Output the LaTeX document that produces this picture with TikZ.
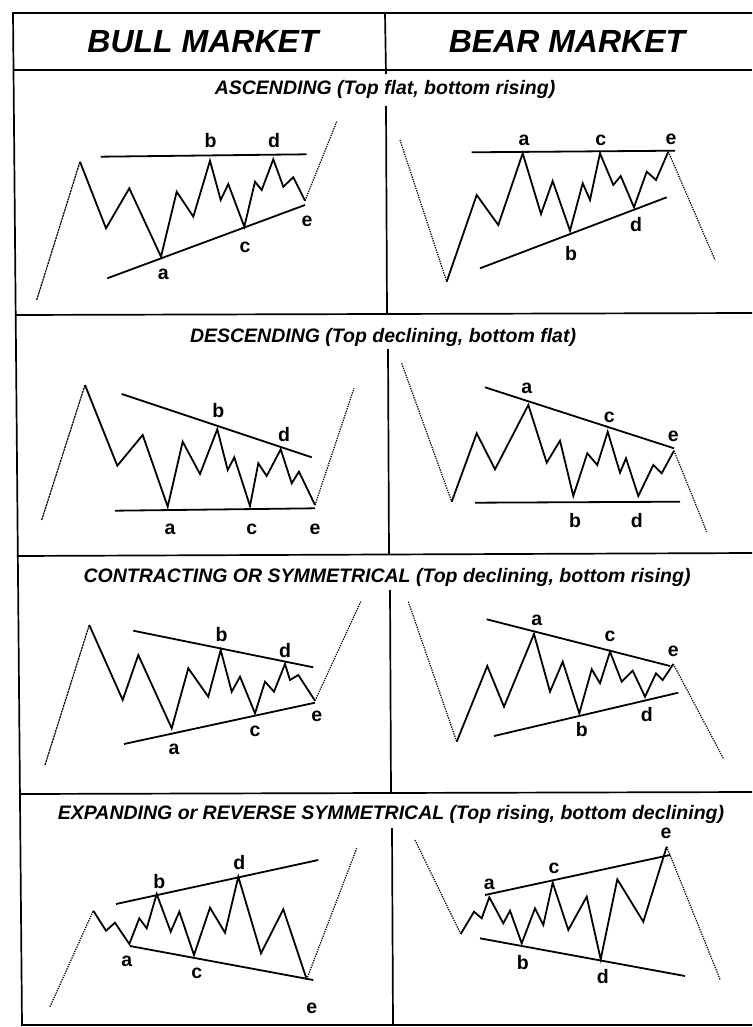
\documentclass[tikz,border=0pt]{standalone}
\usepackage{fontspec}
\setmainfont{Liberation Sans}
\newcommand\hdfont{\fontsize{32}{34}\selectfont\bfseries\itshape}
\newcommand\subfont{\fontsize{19.5}{21}\selectfont\bfseries\itshape}
\newcommand\lblfont{\fontsize{19.5}{20}\selectfont\bfseries}
\tikzset{
  frame/.style={line width=1.7pt},
  wave/.style={line width=1.8pt, line join=miter},
  trend/.style={line width=1.8pt},
  leadin/.style={line width=1.2pt, dash pattern=on 2.2pt off 0.7pt},
  leadout/.style={line width=1.2pt, dash pattern=on 1.3pt off 1.1pt},
  lbl/.style={font=\lblfont, inner sep=0pt},
  hd/.style={font=\hdfont, inner sep=0pt},
  sub/.style={font=\subfont, inner sep=0pt}
}
\begin{document}
\begin{tikzpicture}[x=1pt,y=-1pt]
\useasboundingbox (0,0) rectangle (752,1027);
% frame
\draw[frame] (752,13) -- (13,13) -- (22,1025) -- (752,1025);
\draw[frame] (13,70) -- (752,70);
\draw[frame] (15,315) -- (752,313);
\draw[frame] (18,556) -- (752,553);
\draw[frame] (20,794) -- (752,792);
\draw[frame] (385,13) -- (386,74);
\draw[frame] (386,106) -- (387,314);
\draw[frame] (388,349) -- (389,555);
\draw[frame] (390,590) -- (391,793);
\draw[frame] (392,828) -- (393,1025);
% headers
\node[hd] (bull) at (203,42) {BULL MARKET};
\node[hd] (bear) at (567,41) {BEAR MARKET};
\node[sub] (t1) at (385,89) {ASCENDING (Top flat, bottom rising)};
\node[sub] (t2) at (383,337) {DESCENDING (Top declining, bottom flat)};
\node[sub] (t3) at (387,577) {CONTRACTING OR SYMMETRICAL (Top declining, bottom rising)};
\node[sub] (t4) at (391,814) {EXPANDING or REVERSE SYMMETRICAL (Top rising, bottom declining)};

% ===== Ascending bull
\draw[leadin] (36.7,300) -- (80,161.7);
\draw[wave] (80,161.7) -- (106,228.3) -- (129.3,188.3) -- (161,256.7) -- (176.7,191.7) -- (193.3,216.7) -- (210,160.7) -- (220.7,200) -- (228.3,184) -- (244.3,226.7) -- (255,181.7) -- (261.7,190) -- (273.3,159.3) -- (283.3,186.7) -- (293.3,177.3) -- (305,200.7);
\draw[leadout] (305,200.7) -- (336.7,121.7);
\draw[trend] (100.7,156.7) -- (306.7,154.3);
\draw[trend] (107.3,278.3) -- (305,205);
\node[lbl] (a1) at (163.3,274) {a};
\node[lbl] (b1) at (210.7,141) {b};
\node[lbl] (c1) at (245,247) {c};
\node[lbl] (d1) at (274,141) {d};
\node[lbl] (e1) at (307,221) {e};

% ===== Ascending bear
\draw[leadout] (400,140) -- (446.7,281.7);
\draw[wave] (446.7,281.7) -- (476.7,195) -- (498.3,225) -- (522.7,153.3) -- (541,214) -- (552.7,181) -- (570,230.7) -- (582.7,183.3) -- (590,200) -- (600,153.3) -- (613.3,185) -- (620.7,176) -- (634,207.3) -- (646.7,171.7) -- (656,180) -- (668.3,151.7);
\draw[leadout] (668.3,151.7) -- (715,260);
\draw[trend] (471.7,152.3) -- (675,150.7);
\draw[trend] (480,268.3) -- (666.7,197.3);
\node[lbl] (a2) at (524,140) {a};
\node[lbl] (b2) at (571,254) {b};
\node[lbl] (c2) at (600.7,140) {c};
\node[lbl] (d2) at (636,225) {d};
\node[lbl] (e2) at (671,139) {e};

% ===== Descending bull
\draw[leadin] (41.7,520) -- (85,385);
\draw[wave] (85,385) -- (117.3,465.7) -- (142.7,435) -- (167.7,506.7) -- (182.7,441.7) -- (200,474) -- (217.3,429.3) -- (227.7,470) -- (234.3,457.3) -- (250,506) -- (258.3,463.3) -- (266.7,476) -- (280.7,449.3) -- (291.7,483.3) -- (299,471.7) -- (315,505);
\draw[leadout] (315,505) -- (354,388.3);
\draw[trend] (121.7,394) -- (311.7,457.3);
\draw[trend] (115,510.7) -- (315,508.3);
\node[lbl] (a3) at (170,529) {a};
\node[lbl] (b3) at (218.3,411) {b};
\node[lbl] (c3) at (251.7,529) {c};
\node[lbl] (d3) at (284,434.5) {d};
\node[lbl] (e3) at (315,529) {e};

% ===== Descending bear
\draw[leadout] (401.7,363.3) -- (451.7,501.7);
\draw[wave] (451.7,501.7) -- (476.7,433.3) -- (495,469.3) -- (528.3,405) -- (546.7,462.7) -- (560,440.7) -- (573.3,496) -- (587.3,453.3) -- (597.3,465) -- (607.7,431.7) -- (620,472.7) -- (626,458.3) -- (638.3,496) -- (653.3,465) -- (661.7,473.3) -- (674,450.7);
\draw[leadout] (674,450.7) -- (706.7,531.7);
\draw[trend] (485,387.3) -- (674,448.3);
\draw[trend] (475,502.7) -- (680,501.7);
\node[lbl] (a4) at (526.7,388) {a};
\node[lbl] (b4) at (575,521) {b};
\node[lbl] (c4) at (609.3,417.5) {c};
\node[lbl] (d4) at (636.7,521) {d};
\node[lbl] (e4) at (673.3,436) {e};

% ===== Contracting bull
\draw[leadin] (45,765) -- (89.3,625);
\draw[wave] (89.3,625) -- (122.7,700) -- (138.3,655) -- (171.7,728.3) -- (188.3,668.3) -- (208.3,696.7) -- (220.7,650) -- (231.7,691.7) -- (240,676.7) -- (255,713.3) -- (265,681.7) -- (274,691.7) -- (285,664) -- (290,680) -- (298.3,675) -- (315,700.7);
\draw[leadout] (315,700.7) -- (360.7,601.7);
\draw[trend] (133.3,630.7) -- (313.3,667.3);
\draw[trend] (124,744) -- (315,702.7);
\node[lbl] (a5) at (174,749) {a};
\node[lbl] (b5) at (221.7,635) {b};
\node[lbl] (c5) at (255,731) {c};
\node[lbl] (d5) at (285,651) {d};
\node[lbl] (e5) at (316.7,716) {e};

% ===== Contracting bear
\draw[leadout] (408.3,601.7) -- (456.7,741.7);
\draw[wave] (456.7,741.7) -- (487.3,666) -- (504,706.7) -- (534,634) -- (550,691.7) -- (562.7,661.7) -- (579.3,713.3) -- (591.7,669.3) -- (600,683.3) -- (610,651.7) -- (621.7,681.7) -- (632.7,670.7) -- (645,696.7) -- (656,673.3) -- (662.7,680) -- (673.3,664);
\draw[leadout] (673.3,664) -- (723.3,758.3);
\draw[trend] (486.7,619.3) -- (670,666);
\draw[trend] (494,736) -- (678.3,692.7);
\node[lbl] (a6) at (536.7,620) {a};
\node[lbl] (b6) at (581.7,730) {b};
\node[lbl] (c6) at (610,636.5) {c};
\node[lbl] (d6) at (646.7,715) {d};
\node[lbl] (e6) at (673.3,651) {e};

% ===== Expanding bull
\draw[leadout] (50,1006.7) -- (93.3,910.7);
\draw[wave] (93.3,910.7) -- (106,930.7) -- (115,922.7) -- (129.3,944) -- (139.3,918.3) -- (146.7,928.3) -- (156.7,894) -- (170.7,931.7) -- (179.3,911.7) -- (194,955) -- (210,907.7) -- (225,932.7) -- (238.3,876.7) -- (261,953.3) -- (283.3,909.3) -- (306.7,979.3);
\draw[leadout] (306.7,979.3) -- (356.7,848.3);
\draw[trend] (116,904) -- (318.3,860);
\draw[trend] (130,946) -- (313.3,980);
\node[lbl] (a7) at (126.7,961) {a};
\node[lbl] (b7) at (159.3,882) {b};
\node[lbl] (c7) at (196.7,973.5) {c};
\node[lbl] (d7) at (239.3,863) {d};
\node[lbl] (e7) at (311.7,1008) {e};

% ===== Expanding bear
\draw[leadout] (415,840) -- (460.7,934);
\draw[wave] (460.7,934) -- (474,911.7) -- (481.7,918.3) -- (489.3,897.3) -- (503.3,923.3) -- (510,910.7) -- (521.7,943.3) -- (535,908.3) -- (543.3,925) -- (552.7,882.7) -- (568.3,930) -- (586.7,896.7) -- (600.7,959.3) -- (617.3,879.3) -- (643.3,921.7) -- (666.7,846.7);
\draw[leadout] (666.7,846.7) -- (720,979.3);
\draw[trend] (485,895) -- (670,855);
\draw[trend] (480,938.3) -- (685,976);
\node[lbl] (a8) at (489.3,884) {a};
\node[lbl] (b8) at (522.7,963) {b};
\node[lbl] (c8) at (554,868) {c};
\node[lbl] (d8) at (602.7,977) {d};
\node[lbl] (e8) at (666,833.5) {e};
\end{tikzpicture}
\end{document}
